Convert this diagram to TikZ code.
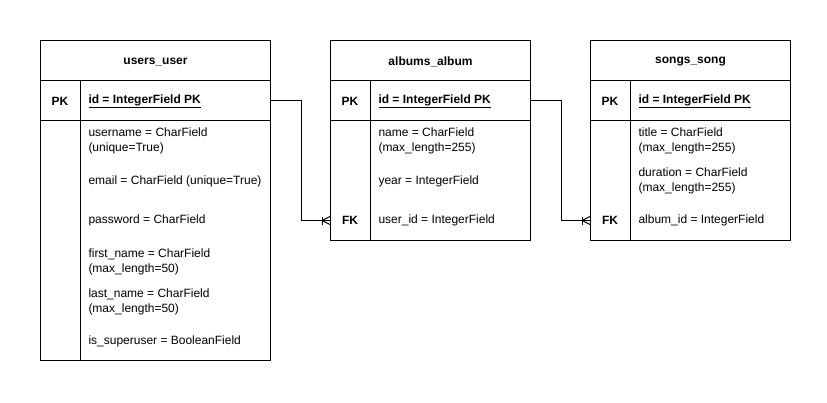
\documentclass[tikz,border=0pt]{standalone}
\usepackage{fontspec}
\setmainfont{Liberation Sans}
\usetikzlibrary{calc}
\begin{document}
\begin{tikzpicture}[x=1pt,y=-1pt,line width=1pt,
  every node/.style={font=\fontsize{12}{15}\selectfont, inner sep=0pt},
  cellbox/.style={draw, anchor=north west, minimum height=40pt},
  txt/.style={yshift=-1pt},
  title/.style={txt, font=\fontsize{12}{15}\selectfont\bfseries},
  field/.style={txt, anchor=west, align=left},
  keytag/.style={txt, font=\fontsize{12}{15}\selectfont\bfseries},
  pkfield/.style={txt, anchor=west, font=\fontsize{12}{15}\selectfont\bfseries},
  link/.style={line width=1pt}]
\useasboundingbox (0,0) rectangle (827,402);

% ---------- users_user ----------
\node[cellbox, minimum width=230pt] (uHead) at (40,40) {};
\node[title] (uTitle) at (uHead.center) {users\_user};
\node[cellbox, minimum width=230pt] (uPK) at (40,80) {};
\node[cellbox, minimum width=230pt, minimum height=240pt] (uBody) at (40,120) {};
\draw (80,80) -- (80,360);
\node[keytag] (uPKtag) at (60,100) {PK};
\node[pkfield] (uId) at (88,100) {\underline{id = IntegerField PK}};
\node[field] (uUsername) at (88,139.5) {username = CharField\\(unique=True)};
\node[field] (uEmail) at (88,180) {email = CharField (unique=True)};
\node[field] (uPassword) at (88,219) {password = CharField};
\node[field] (uFirst) at (88,260.5) {first\_name = CharField\\(max\_length=50)};
\node[field] (uLast) at (88,300.5) {last\_name = CharField\\(max\_length=50)};
\node[field] (uSuper) at (88,340) {is\_superuser = BooleanField};

% ---------- albums_album ----------
\node[cellbox, minimum width=200pt] (aHead) at (330,40) {};
\node[title] (aTitle) at (aHead.center) {albums\_album};
\node[cellbox, minimum width=200pt] (aPK) at (330,80) {};
\node[cellbox, minimum width=200pt, minimum height=120pt] (aBody) at (330,120) {};
\path (330,200) node[anchor=north west, minimum width=200pt, minimum height=40pt] (aFK) {};
\draw (370,80) -- (370,240);
\node[keytag] (aPKtag) at (350,100) {PK};
\node[pkfield] (aId) at (378,100) {\underline{id = IntegerField PK}};
\node[field] (aName) at (378,139.5) {name = CharField\\(max\_length=255)};
\node[field] (aYear) at (378,180) {year = IntegerField};
\node[keytag] (aFKtag) at (350,219) {FK};
\node[field] (aUser) at (378,219) {user\_id = IntegerField};

% ---------- songs_song ----------
\node[cellbox, minimum width=200pt] (sHead) at (590,40) {};
\node[title] (sTitle) at (sHead.center) {songs\_song};
\node[cellbox, minimum width=200pt] (sPK) at (590,80) {};
\node[cellbox, minimum width=200pt, minimum height=120pt] (sBody) at (590,120) {};
\path (590,200) node[anchor=north west, minimum width=200pt, minimum height=40pt] (sFK) {};
\draw (630,80) -- (630,240);
\node[keytag] (sPKtag) at (610,100) {PK};
\node[pkfield] (sId) at (638,100) {\underline{id = IntegerField PK}};
\node[field] (sTitleF) at (638,139.5) {title = CharField\\(max\_length=255)};
\node[field] (sDuration) at (638,179.5) {duration = CharField\\(max\_length=255)};
\node[keytag] (sFKtag) at (610,219) {FK};
\node[field] (sAlbum) at (638,219) {album\_id = IntegerField};

% ---------- relations (one to many) ----------
\draw[link] (uPK.east) -- ++(30,0) |- (aFK.west);
\draw[link] ($(aFK.west)+(-8,-4)$) -- ($(aFK.west)+(-8,4)$);
\draw[link] ($(aFK.west)+(0,-4)$) -- ($(aFK.west)+(-8,0)$) -- ($(aFK.west)+(0,4)$);

\draw[link] (aPK.east) -- ++(30,0) |- (sFK.west);
\draw[link] ($(sFK.west)+(-8,-4)$) -- ($(sFK.west)+(-8,4)$);
\draw[link] ($(sFK.west)+(0,-4)$) -- ($(sFK.west)+(-8,0)$) -- ($(sFK.west)+(0,4)$);
\end{tikzpicture}
\end{document}
